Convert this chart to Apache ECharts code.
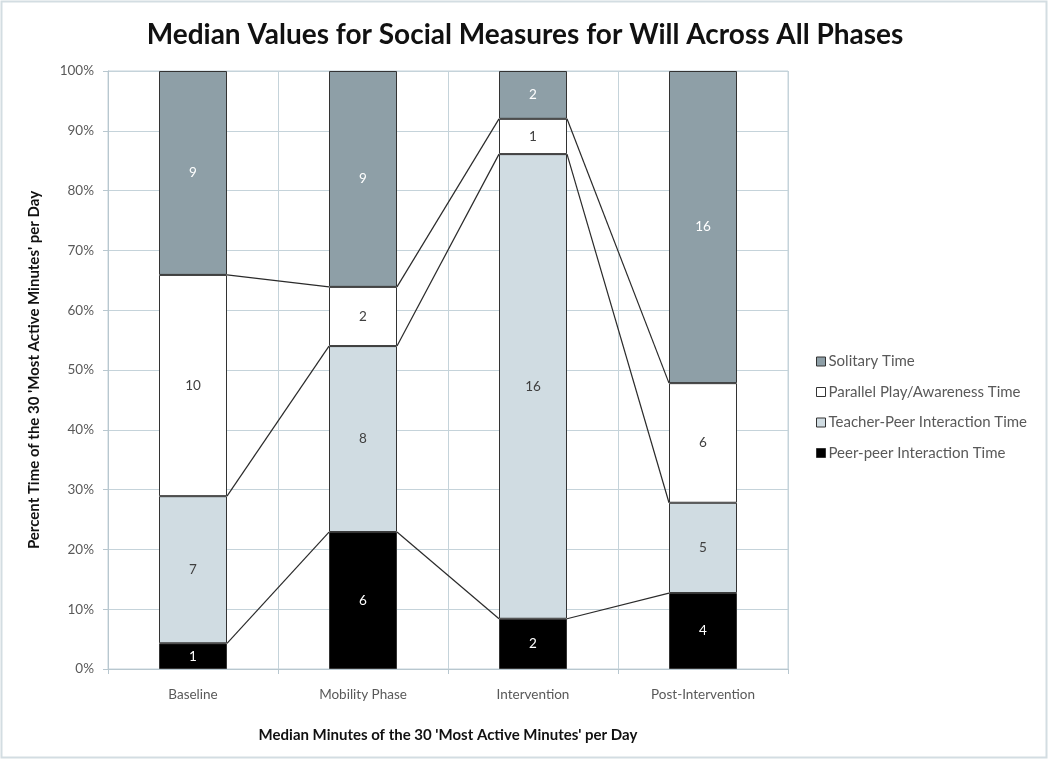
<!DOCTYPE html>
<html>
<head>
<meta charset="utf-8">
<script src="https://cdn.jsdelivr.net/npm/echarts@6/dist/echarts.min.js"></script>
<style>
html,body{margin:0;padding:0;background:#fff;}
#chart{width:1050px;height:762px;}
</style>
</head>
<body>
<div id="chart"></div>
<script>
var categories = ['Baseline', 'Mobility Phase', 'Intervention', 'Post-Intervention'];
var seriesNames = ['Peer-peer Interaction Time', 'Teacher-Peer Interaction Time', 'Parallel Play/Awareness Time', 'Solitary Time'];
// percent of time (bar heights)
var peerPct = [4.3, 22.9, 8.4, 12.7];
var teacherPct = [24.6, 31.1, 77.7, 15.1];
var parallelPct = [37.0, 9.9, 5.9, 20.0];
var solitaryPct = [34.1, 36.1, 8.0, 52.2];
// median minutes (segment labels)
var peerMin = [1, 6, 2, 4];
var teacherMin = [7, 8, 16, 5];
var parallelMin = [10, 2, 1, 6];
var solitaryMin = [9, 9, 2, 16];
var yTicks = [0, 10, 20, 30, 40, 50, 60, 70, 80, 90, 100];

var pcts = [peerPct, teacherPct, parallelPct, solitaryPct];
var mins = [peerMin, teacherMin, parallelMin, solitaryMin];
var colors = ['#000000', '#d0dce2', '#ffffff', '#8e9fa7'];
var labelColors = ['#ffffff', '#404040', '#404040', '#ffffff'];
var BAR_RATIO = 0.4;

var series = [];
for (var s = 0; s < 4; s++) {
  (function (s) {
    series.push({
      name: seriesNames[s],
      type: 'bar',
      stack: 'total',
      barCategoryGap: '60%',
      data: pcts[s],
      itemStyle: { color: colors[s], borderColor: '#333333', borderWidth: 1 },
      label: {
        show: true,
        position: 'inside',
        color: labelColors[s],
        fontFamily: 'Lato',
        fontSize: 13.5,
        formatter: function (p) { return String(mins[s][p.dataIndex]); }
      },
      emphasis: { disabled: true },
      z: 2
    });
  })(s);
}

// series lines connecting tops of stacked segments
var lineData = [];
var cum = [];
for (var i = 0; i < categories.length; i++) {
  var c = 0; cum.push([]);
  for (var s2 = 0; s2 < 3; s2++) { c += pcts[s2][i]; cum[i].push(c); }
}
for (var s3 = 0; s3 < 3; s3++) {
  for (var j = 0; j < categories.length - 1; j++) {
    lineData.push([j, cum[j][s3], cum[j + 1][s3]]);
  }
}
series.push({
  type: 'custom',
  silent: true,
  z: 5,
  data: lineData,
  encode: { x: 0, y: 1 },
  renderItem: function (params, api) {
    var i0 = api.value(0);
    var p1 = api.coord([i0, api.value(1)]);
    var p2 = api.coord([i0 + 1, api.value(2)]);
    var hw = api.size([1, 0])[0] * BAR_RATIO / 2;
    return {
      type: 'line',
      shape: { x1: p1[0] + hw, y1: p1[1], x2: p2[0] - hw, y2: p2[1] },
      style: { stroke: '#2a2a2a', lineWidth: 1.2 }
    };
  }
});

var chart = echarts.init(document.getElementById('chart'));
chart.setOption({
  animation: false,
  backgroundColor: '#ffffff',
  textStyle: { fontFamily: 'Lato' },
  title: {
    text: 'Median Values for Social Measures for Will Across All Phases',
    left: 'center',
    top: 16,
    textStyle: { fontFamily: 'Lato', fontWeight: 'bold', fontSize: 28, color: '#111111' }
  },
  graphic: [{
    type: 'rect',
    shape: { x: 1.5, y: 1.5, width: 1045, height: 756 },
    style: { fill: 'none', stroke: '#d3dde2', lineWidth: 2 },
    silent: true
  }],
  legend: {
    orient: 'vertical',
    left: 811,
    top: 349,
    itemWidth: 9,
    itemHeight: 9,
    itemGap: 15.5,
    icon: 'rect',
    data: [seriesNames[3], seriesNames[2], seriesNames[1], seriesNames[0]],
    textStyle: { fontFamily: 'Lato', fontSize: 15, color: '#595959', padding: [0, 0, 0, -2] },
    itemStyle: { borderColor: '#333333', borderWidth: 1 }
  },
  grid: {
    left: 108, right: 262, top: 71, bottom: 93,
    show: true, borderColor: '#c5d3da', borderWidth: 1, containLabel: false
  },
  xAxis: {
    type: 'category',
    data: categories,
    boundaryGap: true,
    name: "Median Minutes of the 30 'Most Active Minutes' per Day",
    nameLocation: 'middle',
    nameGap: 59,
    nameTextStyle: { fontFamily: 'Lato', fontWeight: 'bold', fontSize: 15, color: '#111111' },
    axisLine: { lineStyle: { color: '#b8c7cf' } },
    axisTick: { show: true, interval: 0, length: 5, lineStyle: { color: '#b8c7cf' } },
    axisLabel: { interval: 0, color: '#595959', fontSize: 13.5, margin: 19 },
    splitLine: { show: true, interval: 0, lineStyle: { color: '#c5d3da' } }
  },
  yAxis: {
    type: 'value',
    min: yTicks[0],
    max: yTicks[yTicks.length - 1],
    interval: 10,
    name: "Percent Time of the 30 'Most Active Minutes' per Day",
    nameLocation: 'middle',
    nameGap: 66,
    nameTextStyle: { fontFamily: 'Lato', fontWeight: 'bold', fontSize: 15, color: '#111111' },
    axisLine: { show: true, lineStyle: { color: '#b8c7cf' } },
    axisTick: { show: true, length: 5, lineStyle: { color: '#b8c7cf' } },
    axisLabel: { color: '#595959', fontSize: 13.5, margin: 14, formatter: '{value}%' },
    splitLine: { show: true, lineStyle: { color: '#c5d3da' } }
  },
  series: series
});
</script>
</body>
</html>
